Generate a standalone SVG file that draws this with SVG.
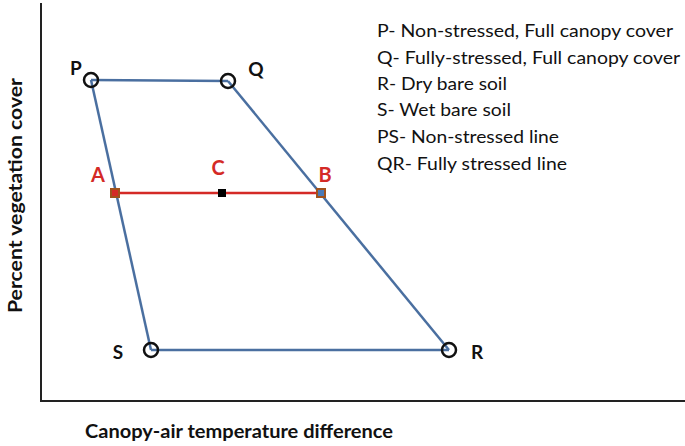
<svg xmlns="http://www.w3.org/2000/svg" width="685" height="446" viewBox="0 0 685 446">
<style>
text{font-family:Lato,"Open Sans","Liberation Sans",sans-serif;}
.lbl{font-size:19px;font-weight:bold;fill:#111;}
.red{font-size:20px;font-weight:bold;fill:#d42a26;}
.leg{font-size:18px;fill:#111;}
.ax{font-size:18px;font-weight:bold;fill:#111;}
.edge{stroke:#4a6fa0;stroke-width:2.5;fill:none;}
.pt{fill:none;stroke:#111;stroke-width:2.5;}
</style>
<rect width="685" height="446" fill="#fff"/>
<g id="axes" stroke="#222" stroke-width="2" fill="none">
<path d="M41 3 V401 H685"/>
</g>
<g id="connectors">
<line class="edge" x1="91" y1="80" x2="228" y2="81"/>
<line class="edge" x1="91" y1="80" x2="151" y2="350"/>
<line class="edge" x1="228" y1="81" x2="449" y2="350"/>
<line class="edge" x1="151" y1="350" x2="449" y2="350"/>
<line x1="115" y1="193" x2="321" y2="193" stroke="#d42a26" stroke-width="2.5"/>
</g>
<g id="P"><circle class="pt" cx="91" cy="80" r="7"/><text class="lbl" x="76" y="75" text-anchor="middle">P</text></g>
<g id="Q"><circle class="pt" cx="228" cy="81" r="7"/><text class="lbl" x="256" y="76" text-anchor="middle">Q</text></g>
<g id="S"><circle class="pt" cx="151" cy="350" r="7"/><text class="lbl" x="118" y="359" text-anchor="middle">S</text></g>
<g id="R"><circle class="pt" cx="449" cy="350" r="7"/><text class="lbl" x="477" y="359" text-anchor="middle">R</text></g>
<g id="A"><rect x="111" y="189" width="8" height="8" fill="#d42a26" stroke="#a0521c" stroke-width="2"/><text class="red" x="98" y="182" text-anchor="middle">A</text></g>
<g id="C"><rect x="218" y="189" width="8" height="8" fill="#000"/><text class="red" x="218" y="175" text-anchor="middle">C</text></g>
<g id="B"><rect x="317" y="189" width="8" height="8" fill="#4a7ab8" stroke="#a0521c" stroke-width="2"/><text class="red" x="325" y="182" text-anchor="middle">B</text></g>
<g id="legend">
<text class="leg" x="377" y="37" textLength="296" lengthAdjust="spacingAndGlyphs">P- Non-stressed, Full canopy cover</text>
<text class="leg" x="377" y="64" textLength="303" lengthAdjust="spacingAndGlyphs">Q- Fully-stressed, Full canopy cover</text>
<text class="leg" x="377" y="90" textLength="130" lengthAdjust="spacingAndGlyphs">R- Dry bare soil</text>
<text class="leg" x="377" y="116" textLength="134" lengthAdjust="spacingAndGlyphs">S- Wet bare soil</text>
<text class="leg" x="377" y="143" textLength="182" lengthAdjust="spacingAndGlyphs">PS- Non-stressed line</text>
<text class="leg" x="377" y="170" textLength="190" lengthAdjust="spacingAndGlyphs">QR- Fully stressed line</text>
</g>
<text class="ax" x="85" y="438" textLength="308" lengthAdjust="spacingAndGlyphs">Canopy-air temperature difference</text>
<text class="ax" transform="translate(22,313) rotate(-90)" textLength="235" lengthAdjust="spacingAndGlyphs">Percent vegetation cover</text>
</svg>
